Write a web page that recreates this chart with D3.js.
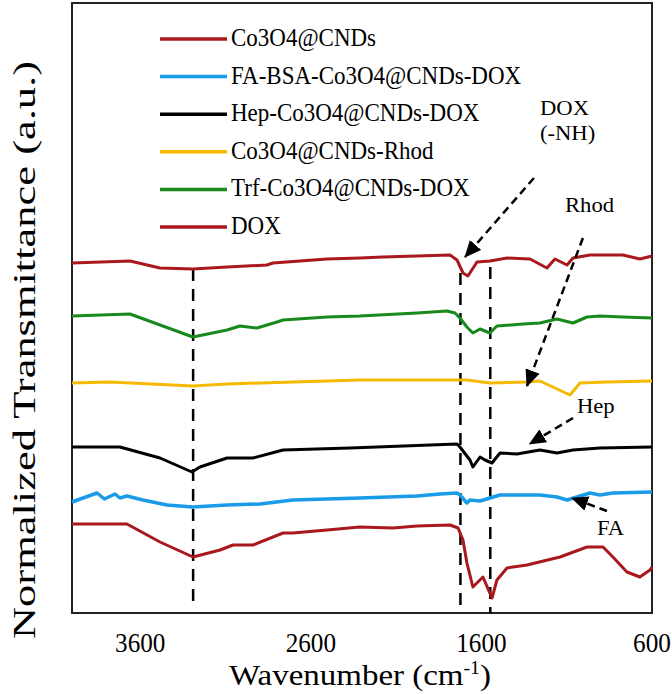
<!DOCTYPE html>
<html>
<head>
<meta charset="utf-8">
<title>FTIR</title>
<script src="https://cdn.jsdelivr.net/npm/d3@7"></script>
<style>body{margin:0;background:#fff}</style>
</head>
<body>
<svg width="672" height="694" id="mainsvg"></svg>
<script>
// legend order
const seriesNames = ['Co3O4@CNDs', 'FA-BSA-Co3O4@CNDs-DOX', 'Hep-Co3O4@CNDs-DOX', 'Co3O4@CNDs-Rhod', 'Trf-Co3O4@CNDs-DOX', 'DOX'];
const seriesColors = ['#a8181c', '#1a9be8', '#000000', '#f6b902', '#18891d', '#a8181c'];
const xTicks = [3600, 2600, 1600, 600];

// [wavenumber, offset transmittance (a.u.)]
const co3o4 = [[4000,8.9],[3678,8.9],[3484,7.1],[3291,5.6],[3132,6.3],[3056,6.8],[2939,6.8],[2763,8.0],[2705,8.0],[2505,8.3],[2312,8.6],[2118,8.5],[1978,8.7],[1784,8.8],[1737,8.5],[1708,7.3],[1685,5.0],[1650,2.6],[1591,3.6],[1538,1.5],[1509,3.3],[1450,4.5],[1333,4.8],[1139,5.6],[981,6.6],[887,6.6],[829,5.6],[747,4.1],[671,3.6],[612,4.3],[600,4.6]];
const faBsa = [[4000,11.1],[3853,12.0],[3810,11.4],[3748,11.9],[3719,11.5],[3678,11.7],[3584,11.3],[3443,10.8],[3291,10.6],[3091,10.8],[2898,10.9],[2705,11.3],[2312,11.5],[1978,11.7],[1843,11.9],[1743,12.0],[1726,11.8],[1685,11.0],[1667,11.3],[1608,11.2],[1550,11.5],[1491,11.8],[1257,11.8],[1157,11.6],[1098,11.3],[964,12.0],[905,11.8],[829,12.0],[600,12.1]];
const hep = [[4000,16.6],[3719,16.6],[3484,15.5],[3297,14.1],[3250,14.6],[3091,15.5],[2939,15.5],[2763,16.3],[2370,16.5],[1743,16.9],[1726,16.6],[1667,15.3],[1650,14.6],[1608,15.6],[1579,15.3],[1538,15.0],[1491,16.0],[1392,15.9],[1257,16.3],[1157,16.0],[1063,16.3],[905,16.5],[600,16.6]];
const rhod = [[4000,23.0],[3777,23.1],[3291,22.7],[3091,22.9],[2705,23.1],[2312,23.3],[1685,23.3],[1550,23.0],[1333,23.1],[1257,23.2],[1081,21.8],[1022,23.0],[864,23.1],[600,23.2]];
const trf = [[4000,29.7],[3660,29.9],[3291,27.6],[3091,28.3],[3015,28.7],[2916,28.5],[2798,29.1],[2763,29.3],[2505,29.6],[2312,29.7],[1978,30.0],[1802,30.2],[1755,30.0],[1726,29.5],[1685,28.6],[1650,28.0],[1608,28.4],[1550,28.0],[1509,28.7],[1356,28.9],[1257,29.0],[1157,29.4],[1063,29.0],[981,29.6],[905,29.7],[770,29.6],[600,29.5]];
const dox = [[4000,35.0],[3660,35.2],[3484,34.5],[3291,34.4],[3091,34.6],[2857,34.8],[2822,35.0],[2505,35.4],[2312,35.5],[2177,35.6],[1784,35.8],[1743,35.3],[1708,34.0],[1679,33.7],[1626,35.1],[1550,35.2],[1450,35.5],[1315,35.4],[1216,34.5],[1169,35.4],[1098,34.8],[1063,35.5],[964,35.8],[770,35.8],[671,35.4],[600,35.7]];
const seriesData = [co3o4, faBsa, hep, rhod, trf, dox];

// dashed band markers: wavenumber, top, bottom
const bandWn = [3290, 1723, 1548];
const bandTop = [34.4, 34.0, 34.6];
const bandBottom = [0.6, 0, 0];

// annotations: text lines and anchor in data units
const noteText = [['DOX', '(-NH)'], ['Rhod'], ['Hep'], ['FA']];
const noteAt = [[1257, 49.8], [1110, 40.1], [1040, 20.0], [923, 7.8]];
// arrows: [fromWn, fromVal, toWn, toVal]
const arrowPts = [[1292, 43.5, 1696, 35.6], [1005, 37.5, 1333, 22.7], [1063, 19.5, 1318, 16.9], [864, 10.2, 1069, 11.5]];

let svg = d3.select('#mainsvg');
const padL = 72, padR = 652, padT = 3, padB = 613;
const serif = '"Liberation Serif", "Times New Roman", serif';

let x = d3.scaleLinear().domain([4000, 600]).range([padL, padR]);
let y = d3.scaleLinear().domain([0, 61]).range([padB, padT]);

svg.append('defs').append('marker')
  .attr('id', 'head').attr('markerUnits', 'userSpaceOnUse')
  .attr('markerWidth', 17).attr('markerHeight', 15)
  .attr('refX', 16).attr('refY', 7.5).attr('orient', 'auto')
  .append('path').attr('d', 'M0,0 L17,7.5 L0,15 Z').attr('fill', '#000');

// frame
svg.append('rect')
  .attr('x', padL).attr('y', padT)
  .attr('width', padR - padL).attr('height', padB - padT)
  .attr('fill', 'none').attr('stroke', '#222').attr('stroke-width', 2);

// dashed band lines
svg.selectAll('line.band').data(bandWn).join('line')
  .attr('class', 'band')
  .attr('x1', d => x(d)).attr('x2', d => x(d))
  .attr('y1', (d, i) => y(bandTop[i])).attr('y2', (d, i) => y(bandBottom[i]))
  .attr('stroke', '#000').attr('stroke-width', 2.5)
  .attr('stroke-dasharray', '12,8');

// spectra
let line = d3.line().x(d => x(d[0])).y(d => y(d[1]));
svg.selectAll('path.spec').data(seriesData).join('path')
  .attr('class', 'spec')
  .attr('d', line)
  .attr('fill', 'none')
  .attr('stroke', (d, i) => seriesColors[i])
  .attr('stroke-width', (d, i) => i == 1 ? 3.5 : 3)
  .attr('stroke-linejoin', 'round');

// arrows
svg.selectAll('line.arrow').data(arrowPts).join('line')
  .attr('class', 'arrow')
  .attr('x1', d => x(d[0])).attr('y1', d => y(d[1]))
  .attr('x2', d => x(d[2])).attr('y2', d => y(d[3]))
  .attr('stroke', '#000').attr('stroke-width', 2.5)
  .attr('stroke-dasharray', '8,5')
  .attr('marker-end', 'url(#head)');

function addText(px, py, str, size, sx, sy, anchor) {
  return svg.append('text')
    .attr('transform', `translate(${px},${py}) scale(${sx},${sy})`)
    .attr('text-anchor', anchor || 'start')
    .attr('font-family', serif)
    .attr('font-size', size)
    .attr('fill', '#000')
    .text(str);
}

// annotation labels
noteText.forEach((lines, i) => {
  lines.forEach((s, j) => {
    addText(x(noteAt[i][0]), y(noteAt[i][1]) + j * 25, s, 22, 1.03, 1);
  });
});

// legend
seriesNames.forEach((name, i) => {
  let ly = 39 + i * 37.6;
  svg.append('line')
    .attr('x1', 160).attr('x2', 227).attr('y1', ly).attr('y2', ly)
    .attr('stroke', seriesColors[i]).attr('stroke-width', 3.5);
  addText(231, ly + 7, name, 23, 1, 1.1);
});

// x tick labels
xTicks.forEach(t => addText(x(t), 652, t, 24, 1.05, 1.1, 'middle'));

// x title
let xt = addText(360, 685, 'Wavenumber (cm', 30, 1.1, 1.0, 'middle');
xt.append('tspan').attr('font-size', 18).attr('dy', -11).text('-1');
xt.append('tspan').attr('dy', 11).text(')');

// y title
svg.append('text')
  .attr('transform', 'translate(35,350) rotate(-90)')
  .attr('text-anchor', 'middle')
  .attr('font-family', serif)
  .attr('font-size', 31)
  .attr('textLength', 578)
  .attr('lengthAdjust', 'spacingAndGlyphs')
  .text('Normalized Transmittance (a.u.)');
</script>
</body>
</html>
